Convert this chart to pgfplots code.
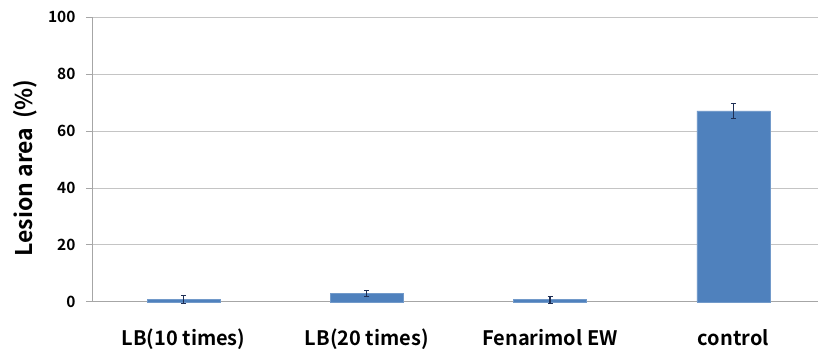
\documentclass[border=0pt]{standalone}
\usepackage{fontspec}
\setmainfont{Noto Sans CJK KR}[BoldFont={Noto Sans CJK KR Bold}]
\usepackage{pgfplots}
\pgfplotsset{compat=1.18}
\definecolor{barblue}{HTML}{4F81BD}
\definecolor{errnavy}{HTML}{1F2F55}
\definecolor{gridgray}{HTML}{C4C4C4}
\definecolor{axgray}{HTML}{A6A6A6}
\begin{document}
\begin{tikzpicture}
\begin{axis}[
  scale only axis,
  width=726pt, height=285pt,
  xmin=-0.5, xmax=3.46,
  ymin=0, ymax=100,
  axis x line*=bottom, axis y line*=left,
  axis line style={axgray, line width=0.8pt},
  xtick={0,1,2,3},
  xticklabels={LB(10 times), LB(20 times), Fenarimol EW, control},
  x tick style={draw=none},
  extra x ticks={-0.5,0.5,1.5,2.5},
  extra x tick labels={},
  extra x tick style={major tick length=7pt, tick align=outside, tick style={axgray, line width=0.8pt}},
  ytick={0,20,40,60,80,100},
  ymajorgrids,
  grid style={gridgray, line width=0.8pt},
  y tick style={axgray, line width=0.8pt},
  tick align=outside, major tick length=6pt,
  /pgf/number format/assume math mode=true,
  yticklabel style={font=\fontsize{15.5}{15.5}\bfseries\selectfont, xshift=-7pt},
  xticklabel style={font=\fontsize{20}{20}\bfseries\selectfont, anchor=base, yshift=-38pt},
  ylabel={Lesion area\hspace{0.15em} (\%)},
  every axis y label/.style={at={(axis description cs:-0.0923,0.47)}, rotate=90, anchor=center,
     font=\fontsize{23}{23}\bfseries\selectfont},
  clip=false,
]
\addplot[ybar, bar width=73pt, fill=barblue, draw=barblue!80!white,
  error bars/.cd, y dir=both, y explicit,
  error bar style={errnavy, line width=1.2pt},
  error mark options={rotate=90, mark size=2.5pt, errnavy, line width=0.8pt}]
  coordinates {
    (0,0.8) +- (0,1.3)
    (1,3.0) +- (0,1.0)
    (2,0.8) +- (0,1.2)
    (3,67.0) +- (0,2.6)
  };
\end{axis}
\path ([shift={(-92pt,-47pt)}]current axis.south west) rectangle ([shift={(0pt,17pt)}]current axis.north east);
\end{tikzpicture}
\end{document}
